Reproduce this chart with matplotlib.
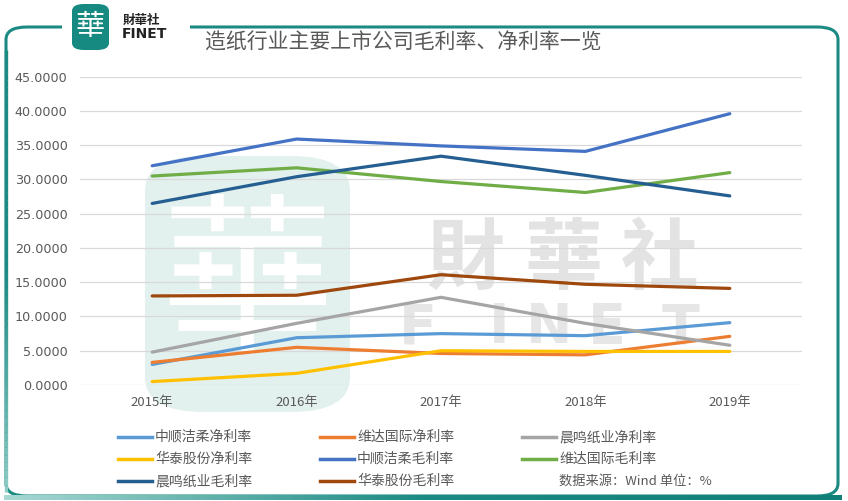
import matplotlib
matplotlib.use("Agg")
import matplotlib.pyplot as plt
from matplotlib.patches import FancyBboxPatch, Rectangle
from matplotlib.lines import Line2D
from matplotlib.collections import LineCollection
from matplotlib.colors import LinearSegmentedColormap
import numpy as np

plt.rcParams['font.family'] = ['Noto Sans CJK SC', 'DejaVu Sans']

years = ["2015年", "2016年", "2017年", "2018年", "2019年"]
series_names = ["中顺洁柔净利率", "维达国际净利率", "晨鸣纸业净利率",
                "华泰股份净利率", "中顺洁柔毛利率", "维达国际毛利率",
                "晨鸣纸业毛利率", "华泰股份毛利率"]
zs_net = [3.0, 6.9, 7.5, 7.2, 9.1]
vinda_net = [3.3, 5.5, 4.6, 4.4, 7.1]
cm_net = [4.8, 9.0, 12.8, 9.0, 5.8]
ht_net = [0.5, 1.7, 5.0, 4.9, 4.9]
zs_gross = [32.0, 35.9, 34.9, 34.1, 39.6]
vinda_gross = [30.5, 31.7, 29.7, 28.1, 31.0]
cm_gross = [26.5, 30.4, 33.4, 30.6, 27.6]
ht_gross = [13.0, 13.1, 16.1, 14.7, 14.1]
values = [zs_net, vinda_net, cm_net, ht_net, zs_gross, vinda_gross, cm_gross, ht_gross]
colors = ["#5B9BD5", "#ED7D31", "#A5A5A5", "#FFC000",
          "#4472C4", "#70AD47", "#255E91", "#9E480E"]
yticks = [0, 5, 10, 15, 20, 25, 30, 35, 40, 45]

W, H = 848, 501
fig = plt.figure(figsize=(W / 100, H / 100), dpi=100)

def fx(x):
    return x / W

def fy(y):
    return 1 - y / H

# frame
frame = FancyBboxPatch((fx(6), fy(496)), fx(832), (496 - 27) / H,
                       boxstyle="round,pad=0,rounding_size=0.025",
                       transform=fig.transFigure, fill=False,
                       edgecolor="#1A8A82", linewidth=2.2, zorder=1)
fig.patches.append(frame)
# left edge fading downwards
ys = np.linspace(50, 492, 60)
segs = [[(fx(6), fy(ys[i])), (fx(6), fy(ys[i + 1]))] for i in range(len(ys) - 1)]
cmap_left = LinearSegmentedColormap.from_list("l", ["#1A8A82", "#1A8A82", "#8FCBC6"])
lc = LineCollection(segs, transform=fig.transFigure, linewidths=2.4,
                    colors=cmap_left(np.linspace(0, 1, len(segs))), zorder=1.5)
fig.add_artist(lc)
# gap in top border around logo
fig.patches.append(Rectangle((fx(62), fy(40)), fx(128), 20 / H,
                             transform=fig.transFigure, facecolor="white",
                             edgecolor="none", zorder=2))
# bottom gradient bar
grad = np.linspace(0, 1, 256).reshape(1, -1)
axg = fig.add_axes([fx(4), fy(500), fx(838), 5 / H], zorder=2)
cmb = LinearSegmentedColormap.from_list("g", ["#A8D8D4", "#1A8A82", "#0F7F77"])
axg.imshow(grad, aspect="auto", cmap=cmb)
axg.axis("off")

# logo
fig.patches.append(FancyBboxPatch((fx(72), fy(50)), fx(37), 46 / H,
                                  boxstyle="round,pad=0,rounding_size=0.014",
                                  transform=fig.transFigure,
                                  facecolor="#168A80", edgecolor="none", zorder=3))
fig.text(fx(90.5), fy(27), "華", color="white", fontsize=21,
         ha="center", va="center", family=["Noto Sans CJK TC"], zorder=4)
fig.text(fx(123), fy(20), "財華社", color="#222222", fontsize=9, fontweight="bold",
         ha="left", va="center", family=["Noto Sans CJK TC"], zorder=4)
fig.text(fx(122), fy(34), "FINET", color="#222222", fontsize=10, fontweight="bold",
         ha="left", va="center", family=["DejaVu Sans"], zorder=4)
fig.text(fx(205), fy(43), "造纸行业主要上市公司毛利率、净利率一览", color="#595959",
         fontsize=15, ha="left", va="center", zorder=4)

# watermark
fig.patches.append(FancyBboxPatch((fx(145), fy(412)), fx(205), (412 - 156) / H,
                                  boxstyle="round,pad=0,rounding_size=0.07",
                                  transform=fig.transFigure,
                                  facecolor="#E2F0EE", edgecolor="none", zorder=0))
fig.text(fx(247), fy(290), "華", color="white", fontsize=125,
         ha="center", va="center", family=["Noto Sans CJK TC"], zorder=0.5)
for ch, cx in zip("財華社", [465, 563, 660]):
    fig.text(fx(cx), fy(260), ch, color="#E3E3E3", fontsize=56, fontweight="bold",
             ha="center", va="center", family=["Noto Sans CJK TC"], zorder=0.5)
for ch, cx in zip("FINET", [418, 499, 549, 607, 681]):
    fig.text(fx(cx), fy(328), ch, color="#E6E6E6", fontsize=40, fontweight="bold",
             ha="center", va="center", family=["DejaVu Sans"], zorder=0.5)

# main axes
ax = fig.add_axes([fx(80), fy(385), fx(802 - 80), (385 - 76.7) / H], zorder=3)
ax.patch.set_alpha(0)
x = np.arange(len(years))
for vals, c in zip(values, colors):
    ax.plot(x, vals, color=c, linewidth=2.3, solid_capstyle="round", zorder=3)
ax.set_xlim(-0.5, len(years) - 0.5)
ax.set_ylim(0, 45)
ax.set_yticks(yticks)
ax.set_yticklabels([f"{v:.4f}" for v in yticks], fontsize=9.2, color="#595959",
                   family=["DejaVu Sans"])
ax.set_xticks(x)
ax.set_xticklabels(years, fontsize=9.5, color="#595959")
ax.grid(axis="y", color="#D9D9D9", linewidth=0.9)
ax.set_axisbelow(True)
for s in ax.spines.values():
    s.set_visible(False)
ax.tick_params(length=0, pad=8)
ax.tick_params(axis="y", pad=9)

# legend
col_x = [118, 320, 522]
row_y = [437, 459, 481]
for i, (name, c) in enumerate(zip(series_names, colors)):
    r, cidx = divmod(i, 3)
    lx = col_x[cidx]
    ly = row_y[r]
    fig.add_artist(Line2D([fx(lx), fx(lx + 34)], [fy(ly), fy(ly)],
                          transform=fig.transFigure, color=c, linewidth=2.5,
                          zorder=4))
    fig.text(fx(lx + 37), fy(ly), name, fontsize=10, color="#595959",
             ha="left", va="center", zorder=4)
fig.text(fx(559), fy(481), "数据来源：Wind 单位：%", fontsize=9.5, color="#595959",
         ha="left", va="center", zorder=4)

fig.savefig("out.png", dpi=100)
